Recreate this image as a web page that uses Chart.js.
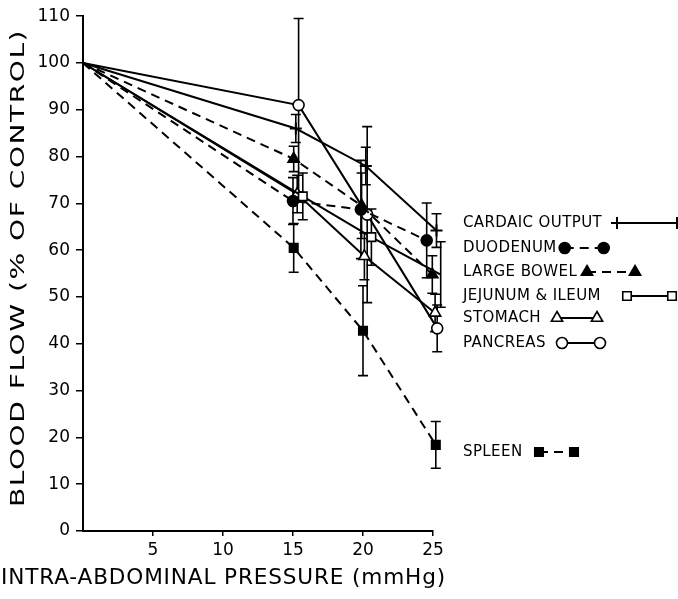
<!DOCTYPE html>
<html>
<head>
<meta charset="utf-8">
<script src="https://cdn.jsdelivr.net/npm/chart.js@4"></script>
<style>
html,body{margin:0;padding:0;background:#fff;}
#wrap{width:678px;height:599px;position:relative;}
</style>
</head>
<body>
<div id="wrap"><canvas id="c" width="678" height="599"></canvas></div>
<script>
// ---- data ----
const xTicks = [5, 10, 15, 20, 25];
const yTicks = [0, 10, 20, 30, 40, 50, 60, 70, 80, 90, 100, 110];

const cardiacX   = [0, 15.2, 20.2, 25.25];
const cardiac    = [100, 86, 78, 64.2];
const cardiacErr = [0, 3, 4, 3.6];

const duodenumX   = [0, 15.0, 19.85, 24.55];
const duodenum    = [100, 70.5, 68.7, 62.1];
const duodenumErr = [0, 5, 10.5, 8];

const largeBowelX   = [0, 15.05, 19.9, 24.95];
const largeBowel    = [100, 79.5, 69.5, 54.8];
const largeBowelErr = [0, 2.7, 7, 4];

const jejunumX   = [0, 15.7, 20.6, 25.55];
const jejunum    = [100, 71.5, 62.8, 54.8];
const jejunumErr = [0, 5, 6, 7];

const stomachX   = [0, 15.3, 20.1, 25.15];
const stomach    = [100, 72, 58.7, 46.6];
const stomachErr = [0, 4, 5, 4];

const pancreasX   = [0, 15.4, 20.3, 25.3];
const pancreas    = [100, 91, 67.6, 43.3];
const pancreasErr = [0, 18.5, 18.8, 5];

const spleenX   = [0, 15.05, 20.0, 25.2];
const spleen    = [100, 60.5, 42.8, 18.4];
const spleenErr = [0, 5.2, 9.6, 5];

const labels = ['CARDAIC OUTPUT', 'DUODENUM', 'LARGE BOWEL', 'JEJUNUM & ILEUM', 'STOMACH', 'PANCREAS', 'SPLEEN'];

// ---- build datasets ----
function pts(xs, ys){ return xs.map((x,i)=>({x:x, y:ys[i]})); }
const DASH = [9,6];
function ds(label, xs, ys, err, style, filled, dashed, r){
  return {
    label: label,
    data: pts(xs, ys),
    err: err,
    showLine: true,
    borderColor: '#000',
    borderWidth: 2,
    borderDash: dashed ? DASH : [],
    pointStyle: style,
    pointRadius: [0, r, r, r],
    pointHoverRadius: [0, r, r, r],
    pointBorderWidth: style === 'cross' ? 2 : 1.6,
    pointBackgroundColor: filled ? '#000' : '#fff',
    pointBorderColor: '#000',
    clip: false,
    fill: false,
    tension: 0
  };
}
const datasets = [
  ds(labels[0], cardiacX, cardiac, cardiacErr, 'cross', false, false, 6),
  ds(labels[1], duodenumX, duodenum, duodenumErr, 'circle', true, true, 5.5),
  ds(labels[2], largeBowelX, largeBowel, largeBowelErr, 'triangle', true, true, 6.5),
  ds(labels[3], jejunumX, jejunum, jejunumErr, 'rect', false, false, 6),
  ds(labels[4], stomachX, stomach, stomachErr, 'triangle', false, false, 6.5),
  ds(labels[5], pancreasX, pancreas, pancreasErr, 'circle', false, false, 5.5),
  ds(labels[6], spleenX, spleen, spleenErr, 'rect', true, true, 6)
];

const FONT = '"DejaVu Sans", "Liberation Sans", sans-serif';

// error bars drawn through the scales
const errorBars = {
  id: 'errorBars',
  beforeDatasetsDraw(chart){
    const ctx = chart.ctx, xs = chart.scales.x, ys = chart.scales.y;
    ctx.save();
    ctx.strokeStyle = '#000';
    ctx.lineWidth = 1.6;
    chart.data.datasets.forEach(d => {
      d.data.forEach((p, i) => {
        const e = d.err[i];
        if (!e) return;
        const px = xs.getPixelForValue(p.x);
        const top = ys.getPixelForValue(p.y + e);
        const bot = ys.getPixelForValue(p.y - e);
        ctx.beginPath();
        ctx.moveTo(px, top); ctx.lineTo(px, bot);
        ctx.moveTo(px - 5, top); ctx.lineTo(px + 5, top);
        ctx.moveTo(px - 5, bot); ctx.lineTo(px + 5, bot);
        ctx.stroke();
      });
    });
    ctx.restore();
  }
};

// draw text stretched horizontally to a target width
function fitText(ctx, text, size, spacing, target, x, y){
  ctx.font = size + 'px ' + FONT;
  ctx.letterSpacing = spacing + 'px';
  const w = ctx.measureText(text).width;
  ctx.save();
  ctx.translate(x, y);
  ctx.scale(target / w, 1);
  ctx.textAlign = 'left';
  ctx.fillText(text, 0, 0);
  ctx.restore();
}

// axis titles and legend
const legendRows = [
  {y: 223, s: 617, e: 677},
  {y: 248, s: 563, e: 602},
  {y: 272, s: 587, e: 635},
  {y: 296, s: 627, e: 672},
  {y: 318, s: 557, e: 597},
  {y: 343, s: 562, e: 600},
  {y: 452, s: 539, e: 574}
];
const annotate = {
  id: 'annotate',
  afterDraw(chart){
    const ctx = chart.ctx;
    ctx.save();
    ctx.fillStyle = '#000';
    ctx.textBaseline = 'middle';
    // x title
    fitText(ctx, 'INTRA-ABDOMINAL PRESSURE (mmHg)', 20.5, 0.8, 445, 1, 579);
    // y title
    ctx.save();
    ctx.translate(19, 268);
    ctx.rotate(-Math.PI/2);
    fitText(ctx, 'BLOOD FLOW (% OF CONTROL)', 19, 1, 478, -239, 0);
    ctx.restore();
    ctx.restore();

    // legend
    ctx.save();
    ctx.textAlign = 'left';
    ctx.textBaseline = 'middle';
    ctx.font = '15px ' + FONT;
    ctx.letterSpacing = '0.4px';
    chart.data.datasets.forEach((d, i) => {
      const row = legendRows[i];
      ctx.fillStyle = '#000';
      ctx.fillText(d.label, 463, row.y);
      const tw = ctx.measureText(d.label).width;
      const s = Math.max(row.s, 463 + tw + 8);
      const e = s + (row.e - row.s);
      ctx.save();
      ctx.strokeStyle = '#000';
      ctx.lineWidth = 2;
      ctx.setLineDash(d.borderDash);
      ctx.beginPath(); ctx.moveTo(s, row.y); ctx.lineTo(e, row.y); ctx.stroke();
      ctx.setLineDash([]);
      const r = d.pointRadius[1];
      [s, e].forEach(px => {
        ctx.fillStyle = d.pointBackgroundColor;
        ctx.strokeStyle = '#000';
        ctx.lineWidth = d.pointBorderWidth;
        Chart.helpers.drawPoint(ctx, {pointStyle: d.pointStyle, radius: r, rotation: 0, borderWidth: d.pointBorderWidth}, px, row.y);
      });
      ctx.restore();
    });
    ctx.restore();
  }
};

new Chart(document.getElementById('c'), {
  type: 'scatter',
  data: { datasets: datasets },
  options: {
    responsive: false,
    animation: false,
    events: [],
    layout: { padding: { left: 0, top: 15, right: 245, bottom: 0 } },
    plugins: { legend: { display: false }, tooltip: { enabled: false } },
    scales: {
      x: {
        type: 'linear', min: 0, max: 25,
        afterFit(s){ s.height = 68; },
        afterBuildTicks(s){ s.ticks = xTicks.map(v => ({value: v})); },
        grid: { display: true, drawOnChartArea: false, color: '#000', lineWidth: 1.5, tickLength: 5 },
        border: { display: true, color: '#000', width: 2 },
        ticks: { color: '#000', font: { family: FONT, size: 17 }, padding: 4, maxRotation: 0 }
      },
      y: {
        type: 'linear', min: 0, max: 110,
        afterFit(s){ s.width = 83; },
        afterBuildTicks(s){ s.ticks = yTicks.map(v => ({value: v})); },
        grid: { display: true, drawOnChartArea: false, color: '#000', lineWidth: 1.5, tickLength: 7 },
        border: { display: true, color: '#000', width: 2 },
        ticks: { color: '#000', font: { family: FONT, size: 17 }, padding: 6 }
      }
    }
  },
  plugins: [errorBars, annotate]
});
</script>
</body>
</html>
